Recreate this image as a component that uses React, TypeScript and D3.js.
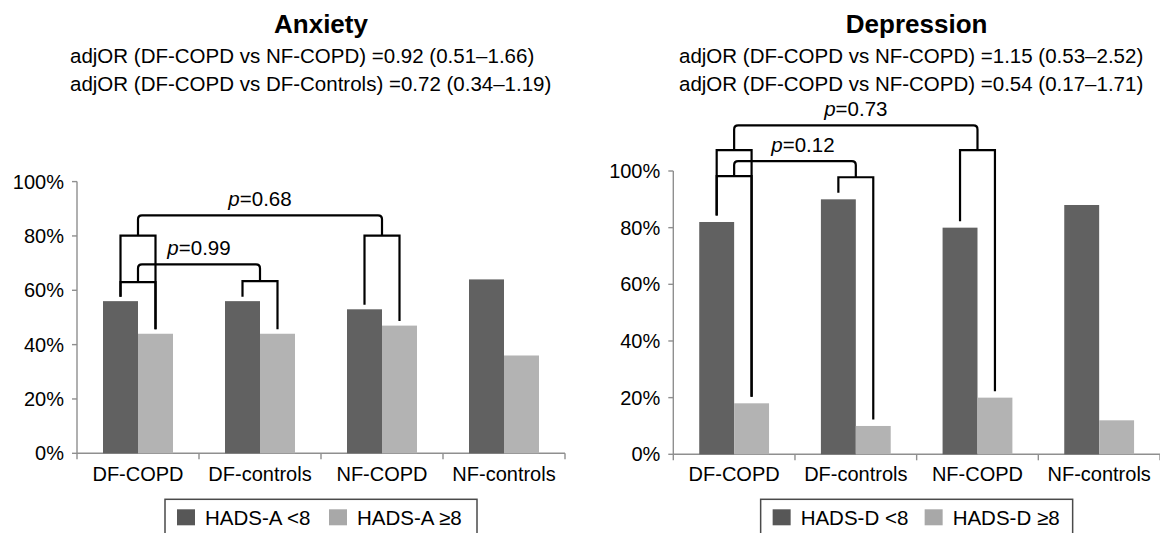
import React from "react";
import * as d3 from "d3";

const categories = ["DF-COPD", "DF-controls", "NF-COPD", "NF-controls"];
const seriesKeys = ["low", "high"];
const anxietyLow = [56, 56, 53, 64];
const anxietyHigh = [44, 44, 47, 36];
const depressionLow = [82, 90, 80, 88];
const depressionHigh = [18, 10, 20, 12];
const yTicks = [0, 20, 40, 60, 80, 100];

const anxietyTitle = "Anxiety";
const anxietySubs = [
  "adjOR (DF-COPD vs NF-COPD) =0.92 (0.51\u20131.66)",
  "adjOR (DF-COPD vs DF-Controls) =0.72 (0.34\u20131.19)",
];
const depressionTitle = "Depression";
const depressionSubs = [
  "adjOR (DF-COPD vs NF-COPD) =1.15 (0.53\u20132.52)",
  "adjOR (DF-COPD vs NF-COPD) =0.54 (0.17\u20131.71)",
];
const anxietyLegend = ["HADS-A <8", "HADS-A \u22658"];
const depressionLegend = ["HADS-D <8", "HADS-D \u22658"];

// comparisons: group a vs group b, level of each group's bracket, top level, p value
const anxietyComparisons = [
  { a: "DF-COPD", b: "DF-controls", aLevel: 63.0, bLevel: 63.4, top: 69.5, p: "0.99" },
  { a: "DF-COPD", b: "NF-COPD", aLevel: 80.1, bLevel: 80.1, top: 87.6, p: "0.68" },
];
const depressionComparisons = [
  { a: "DF-COPD", b: "DF-controls", aLevel: 98.2, bLevel: 97.8, top: 103.5, p: "0.12" },
  { a: "DF-COPD", b: "NF-COPD", aLevel: 107.4, bLevel: 107.4, top: 116.1, p: "0.73" },
];

const FONT = "'Liberation Sans', Arial, Helvetica, sans-serif";
const DARK = "#616161";
const LIGHT = "#b3b3b3";
const LEG_DARK = "#575757";
const LEG_LIGHT = "#a8a8a8";
const AXIS = "#8f8f8f";

type Comp = { a: string; b: string; aLevel: number; bLevel: number; top: number; p: string };

function Panel(props: {
  left: number;
  right: number;
  y0: number;
  y100: number;
  title: string;
  subs: string[];
  subLeft: number;
  low: number[];
  high: number[];
  comps: Comp[];
  labelShift: number[];
  legend: string[];
  gap: number;
}) {
  const { left, right, y0, y100, title, subs, subLeft, low, high, comps, labelShift, legend, gap } = props;
  const x = d3.scaleBand<string>().domain(categories).range([left, right]).padding(0);
  const bw = x.bandwidth();
  const inner = d3
    .scaleBand<string>()
    .domain(seriesKeys)
    .range([bw * 0.2131, bw * 0.7869])
    .padding(0);
  const y = d3.scaleLinear().domain([0, 100]).range([y0, y100]);
  const cx = left + (right - left) / 2;
  const values: Record<string, number[]> = { low, high };
  const barCenter = (cat: string, key: string) =>
    (x(cat) as number) + (inner(key) as number) + inner.bandwidth() / 2;
  const groupCenter = (cat: string) => (x(cat) as number) + bw / 2;
  const r = 4;

  const groupBracket = (cat: string, level: number, key: string) => {
    const i = categories.indexOf(cat);
    const xl = barCenter(cat, "low");
    const xh = barCenter(cat, "high");
    const yl = y(level);
    const bl = y(low[i]) - gap;
    const bh = y(high[i]) - gap;
    return (
      <path
        key={key}
        d={`M${xl},${bl}V${yl}H${xh}V${bh}`}
        fill="none"
        stroke="#000"
        strokeWidth={2.2}
        strokeLinejoin="miter"
      />
    );
  };

  const legendLeft = cx - 156;
  return (
    <g fontFamily={FONT}>
      <text x={cx} y={33.3} textAnchor="middle" fontSize={26} fontWeight="bold" fill="#000">
        {title}
      </text>
      {subs.map((s, i) => (
        <text key={i} x={subLeft} y={63.3 + i * 27.5} textAnchor="start" fontSize={20.5} fill="#000">
          {s}
        </text>
      ))}
      {/* y axis */}
      <line x1={left} x2={left} y1={y(100)} y2={y(0) + 6} stroke={AXIS} strokeWidth={1.4} />
      {yTicks.map((t) => (
        <g key={t}>
          <line x1={left - 5} x2={left} y1={y(t)} y2={y(t)} stroke={AXIS} strokeWidth={1.4} />
          <text x={left - 13} y={y(t) + 7} textAnchor="end" fontSize={20} fill="#000">
            {t}%
          </text>
        </g>
      ))}
      {/* x axis */}
      <line x1={left} x2={right} y1={y(0)} y2={y(0)} stroke={AXIS} strokeWidth={1.4} />
      {categories.map((c) => (
        <line
          key={c}
          x1={(x(c) as number) + bw}
          x2={(x(c) as number) + bw}
          y1={y(0)}
          y2={y(0) + 6}
          stroke={AXIS}
          strokeWidth={1.4}
        />
      ))}
      {/* bars */}
      {categories.map((c, i) =>
        seriesKeys.map((k) => (
          <rect
            key={c + k}
            x={(x(c) as number) + (inner(k) as number)}
            y={y(values[k][i])}
            width={inner.bandwidth()}
            height={y(0) - y(values[k][i])}
            fill={k === "low" ? DARK : LIGHT}
          />
        ))
      )}
      {categories.map((c) => (
        <text key={c} x={groupCenter(c)} y={481} textAnchor="middle" fontSize={20} fill="#000">
          {c}
        </text>
      ))}
      {/* brackets */}
      {comps.map((cp, i) => {
        const xa = groupCenter(cp.a);
        const xb = groupCenter(cp.b);
        const ya = y(cp.aLevel);
        const yb = y(cp.bLevel);
        const yt = y(cp.top);
        return (
          <g key={i}>
            {groupBracket(cp.a, cp.aLevel, "a")}
            {groupBracket(cp.b, cp.bLevel, "b")}
            <path
              d={`M${xa},${ya}V${yt + r}Q${xa},${yt} ${xa + r},${yt}H${xb - r}Q${xb},${yt} ${xb},${yt + r}V${yb}`}
              fill="none"
              stroke="#000"
              strokeWidth={2.2}
            />
            <text
              x={(xa + xb) / 2 + (labelShift[i] || 0)}
              y={yt - 9}
              textAnchor="middle"
              fontSize={20.5}
              fill="#000"
            >
              <tspan fontStyle="italic">p</tspan>={cp.p}
            </text>
          </g>
        );
      })}
      {/* legend */}
      <rect x={legendLeft} y={499.3} width={312} height={40} fill="#fff" stroke="#4a4a4a" strokeWidth={1.5} />
      <rect x={legendLeft + 12} y={509.3} width={18} height={16} fill={LEG_DARK} />
      <text x={legendLeft + 40} y={525} fontSize={20.5} fill="#000">
        {legend[0]}
      </text>
      <rect x={legendLeft + 164} y={509.3} width={18} height={16} fill={LEG_LIGHT} />
      <text x={legendLeft + 192} y={525} fontSize={20.5} fill="#000">
        {legend[1]}
      </text>
    </g>
  );
}

export default function App() {
  return (
    <svg
      width={1160}
      height={533}
      viewBox="0 0 1160 533"
      style={{ position: "absolute", left: 0, top: 0, background: "#fff" }}
    >
      <rect x={0} y={0} width={1160} height={533} fill="#fff" />
      <Panel
        left={77}
        right={565}
        y0={453.3}
        y100={181.6}
        title={anxietyTitle}
        subs={anxietySubs}
        subLeft={70}
        low={anxietyLow}
        high={anxietyHigh}
        comps={anxietyComparisons}
        labelShift={[0, 0]}
        legend={anxietyLegend}
        gap={4.5}
      />
      <Panel
        left={673.3}
        right={1160}
        y0={454.3}
        y100={171}
        title={depressionTitle}
        subs={depressionSubs}
        subLeft={679}
        low={depressionLow}
        high={depressionHigh}
        comps={depressionComparisons}
        labelShift={[8, 0]}
        legend={depressionLegend}
        gap={6.5}
      />
    </svg>
  );
}
